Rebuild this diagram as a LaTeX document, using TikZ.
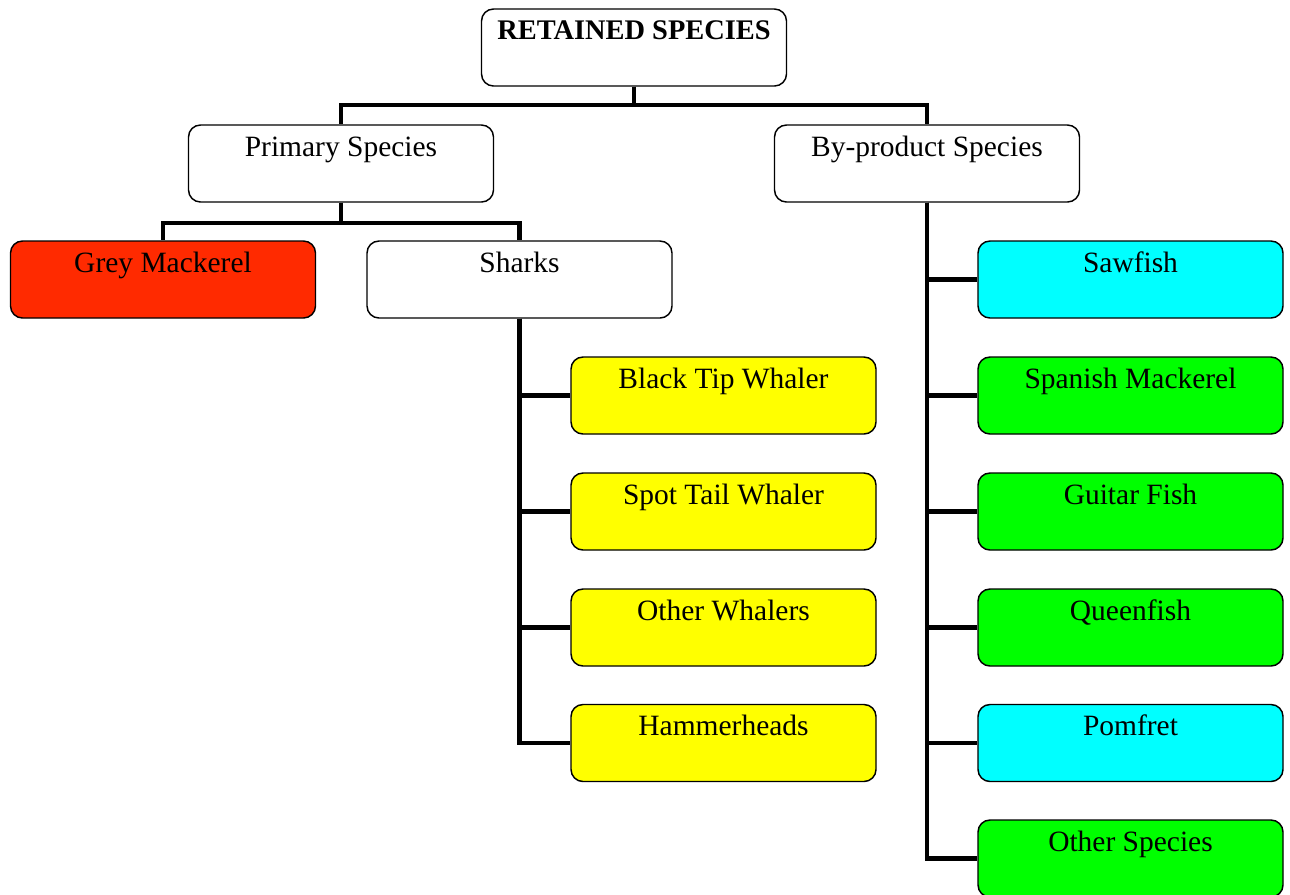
\documentclass[tikz,border=0pt]{standalone}
\usepackage{fontspec}
\setmainfont{Liberation Serif}
\begin{document}
\begin{tikzpicture}[x=0.75pt,y=-0.75pt,
  box/.style={draw=black,line width=1.1pt,rounded corners=9pt,
    minimum width=228.75pt,inner xsep=0pt,inner ysep=0pt,
    text height=23.6pt,text depth=34.15pt,align=center,
    font=\fontsize{22.1}{27}\selectfont},
  rootbox/.style={box,font=\bfseries\fontsize{21.3}{25}\selectfont,text height=22.8pt,text depth=34.95pt},
  conn/.style={line width=3.1pt,draw=black},
  redfill/.style={fill=rcol},
  yelfill/.style={fill=ycol},
  cyfill/.style={fill=ccol},
  grfill/.style={fill=gcol}]
\definecolor{rcol}{HTML}{FF2A00}
\definecolor{ycol}{HTML}{FFFF00}
\definecolor{ccol}{HTML}{00FFFF}
\definecolor{gcol}{HTML}{00FF00}
\useasboundingbox (0,0) rectangle (1290,894);

% top levels
\node[rootbox] (root) at (634,47.5) {RETAINED SPECIES};
\node[box] (prim) at (341,163.5) {Primary Species};
\node[box] (byp) at (927,163.5) {By-product Species};

% primary branch
\node[box,redfill] (grey) at (163,279.5) {Grey Mackerel};
\node[box] (sharks) at (519.5,279.5) {Sharks};
\node[box,yelfill] (btw) at (723.5,395.5) {Black Tip Whaler};
\node[box,yelfill] (stw) at (723.5,511.5) {Spot Tail Whaler};
\node[box,yelfill] (ow) at (723.5,627.5) {Other Whalers};
\node[box,yelfill] (hh) at (723.5,743) {Hammerheads};

% by-product branch
\node[box,cyfill] (saw) at (1130.5,279.5) {Sawfish};
\node[box,grfill] (spm) at (1130.5,395.5) {Spanish Mackerel};
\node[box,grfill] (gf) at (1130.5,511.5) {Guitar Fish};
\node[box,grfill] (qf) at (1130.5,627.5) {Queenfish};
\node[box,cyfill] (pf) at (1130.5,743) {Pomfret};
\node[box,grfill] (os) at (1130.5,858.5) {Other Species};

% connectors
\draw[conn] (root.south) -- ++(0,18) -| (prim.north);
\draw[conn] (root.south) -- ++(0,18) -| (byp.north);
\draw[conn] (prim.south) -- ++(0,20) -| (grey.north);
\draw[conn] (prim.south) -- ++(0,20) -| (sharks.north);
\foreach \c in {btw,stw,ow,hh} \draw[conn] (sharks.south) |- (\c.west);
\foreach \c in {saw,spm,gf,qf,pf,os} \draw[conn] (byp.south) |- (\c.west);
\end{tikzpicture}
\end{document}
